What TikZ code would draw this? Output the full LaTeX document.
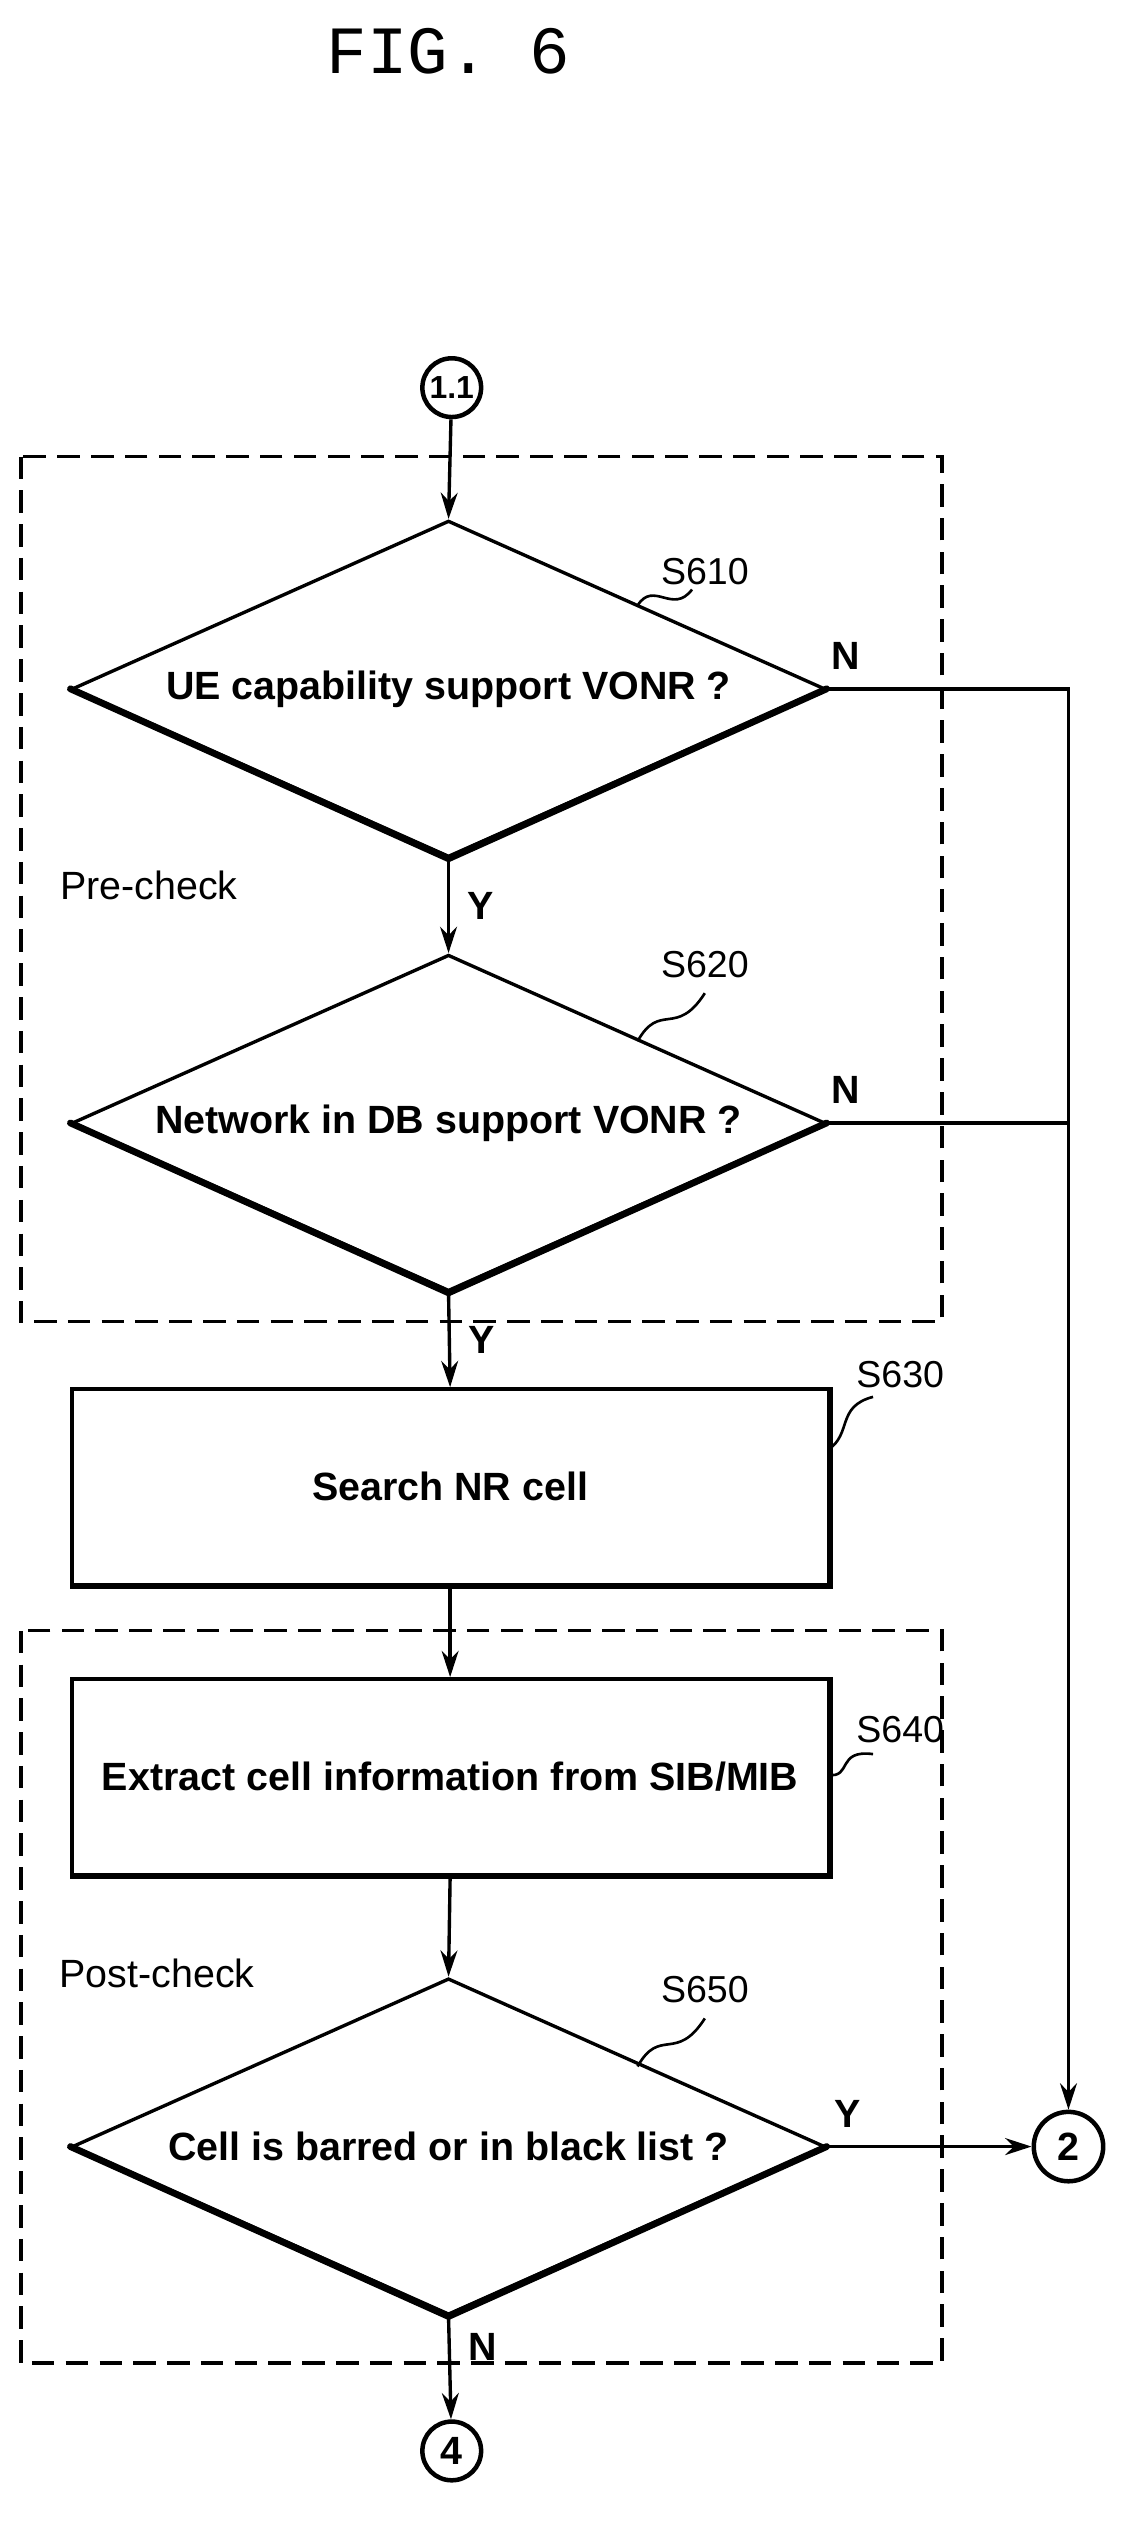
\documentclass[tikz,border=0pt]{standalone}
\usepackage{fontspec}
\setmainfont{Liberation Sans}
\setmonofont{Liberation Mono}
\usetikzlibrary{shapes.geometric,arrows.meta}
\tikzset{
    every node/.style={font=\bfseries\fontsize{21}{25}\selectfont},
    flow/.style={line width=1.8pt},
    arr/.style={flow,-{Stealth[length=14pt,width=9pt]}},
    dia/.style={diamond, draw, flow, aspect=2.24, minimum width=14.1cm, minimum height=6.3cm, inner sep=0pt},
    stepbox/.style={rectangle, draw, flow, minimum width=14.16cm, minimum height=3.66cm},
    conn/.style={circle, draw, line width=2.4pt, minimum size=1.1cm, inner sep=0pt},
    dbox/.style={flow, dash pattern=on 12pt off 6pt},
    tag/.style={font=\fontsize{20}{22}\selectfont},
    wave/.style={line width=1.4pt}
}
\begin{document}
\begin{tikzpicture}[x=0.03cm,y=-0.03cm]
\useasboundingbox (0,0) rectangle (709,1575);

% title
\node (title) at (280,32) {\ttfamily\mdseries\fontsize{36}{40}\selectfont FIG. 6};

% dashed frames
\draw [dbox] (13,285) rectangle (588,825);
\draw [dbox] (13,1018) rectangle (588,1475);
\node (pre) at (93,553) {\mdseries Pre-check};
\node (post) at (98,1232) {\mdseries Post-check};

% connectors
\node (c11) [conn, font=\bfseries\fontsize{17}{19}\selectfont] at (282,242) {1.1};
\node (c2) [conn, minimum size=1.3cm] at (667,1340) {2};
\node (c4) [conn] at (282,1530) {4};

% steps
\node (s610) [dia] at (280,430) {UE capability support VONR ?};
\node (s620) [dia] at (280,701) {Network in DB support VONR ?};
\node (s630) [stepbox] at (281,928) {Search NR cell};
\node (s640) [stepbox] at (281,1109) {Extract cell information from SIB/MIB};
\node (s650) [dia] at (280,1340) {Cell is barred or in black list ?};

% shadows
\foreach \d in {s610,s620,s650}
    \draw [line width=3.6pt, line cap=round] (\d.west) -- (\d.south) -- (\d.east);
\foreach \b in {s630,s640}
    \draw [line width=3.6pt] (\b.north east) -- (\b.south east) -- (\b.south west);

% step labels
\node (t610) [tag] at (440,357) {S610};
\node (t620) [tag] at (440,602) {S620};
\node (t630) [tag] at (562,858) {S630};
\node (t640) [tag] at (562,1080) {S640};
\node (t650) [tag] at (440,1242) {S650};
\draw [wave] (398,378) .. controls (408,362) and (420,384) .. (432,368);
\draw [wave] (398,650) .. controls (412,625) and (422,648) .. (440,620);
\draw [wave] (517,905) .. controls (532,895) and (522,878) .. (545,872);
\draw [wave] (517,1108) .. controls (532,1110) and (522,1092) .. (545,1095);
\draw [wave] (398,1290) .. controls (412,1265) and (422,1288) .. (440,1260);

% flow
\draw [arr] (c11) -- (s610.north);
\draw [arr] (s610.south) -- node [right=6pt] {Y} (s620.north);
\draw [arr] (s620.south) -- node [right=6pt] {Y} (s630.north);
\draw [arr] (s630.south) -- (s640.north);
\draw [arr] (s640.south) -- (s650.north);
\draw [arr] (s650.south) -- node [right=6pt, pos=0.3] {N} (c4);
\draw [arr] (s650.east) -- node [above=6pt, pos=0.1] {Y} (c2);
\coordinate (r1) at (667,430);
\coordinate (r2) at (667,701);
\draw [arr] (s610.east) -- node [above=6pt, pos=0.08] {N} (r1) -- (c2);
\draw [flow] (s620.east) -- node [above=6pt, pos=0.08] {N} (r2);
\end{tikzpicture}
\end{document}
